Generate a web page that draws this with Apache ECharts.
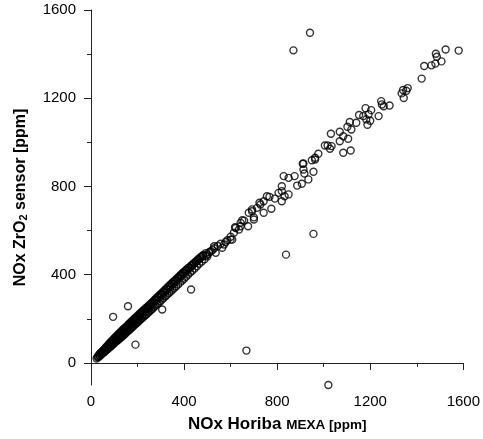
<!DOCTYPE html>
<html>
<head>
<meta charset="utf-8">
<script src="https://cdn.jsdelivr.net/npm/echarts@6/dist/echarts.min.js"></script>
<style>html,body{margin:0;padding:0;background:#fff}#c{width:483px;height:439px}</style>
</head>
<body>
<div id="c"></div>
<script>
// Main dense band: NOx Horiba MEXA (x) vs NOx ZrO2 sensor (y), ppm
const bandMexa = [24,28,31,35,38,40,43,46,48,51,53,56,58,61,63,65,68,70,72,75,77,80,82,84,87,89,92,94,96,99,101,104,106,109,111,114,116,118,121,123,126,128,131,133,136,138,141,143,146,148,151,154,156,159,161,164,167,169,172,175,177,180,182,185,188,190,193,196,199,201,204,207,210,212,215,218,221,224,227,230,233,236,239,242,245,248,251,254,258,261,264,267,270,274,277,280,284,287,291,294,298,301,305,309,312,316,320,323,327,331,335,338,342,346,350,354,358,362,366,370,374,378,382,387,391,395,400,404,408,413,417,421,426,431,435,440,445,450,455,460,465,470,476,482,488,494,500];
const bandSensor = [20,27,26,38,31,44,37,50,41,55,46,61,50,66,55,72,60,76,63,84,68,89,72,93,77,100,82,104,86,111,90,116,96,121,99,126,104,131,108,136,113,141,118,146,122,152,127,156,132,161,137,167,142,172,147,178,152,182,157,189,162,193,167,199,173,204,178,210,183,214,188,221,194,225,199,232,205,237,210,243,216,249,221,254,228,261,233,266,240,273,246,279,252,287,259,293,266,300,273,307,280,314,287,322,294,330,302,337,309,345,317,352,324,360,332,368,340,376,348,384,356,392,364,401,373,409,382,417,391,426,400,433,410,442,418,451,428,460,438,470,450,479,460,489,470,498,482];
// Further points inside the dense band
const coreMexa = [30,36,42,47,53,59,64,70,76,81,87,93,98,104,110,115,121,127,132,138,144,150,156,162,168,174,180,186,192,198,204,210,216,222,228,234,240,246,252,258,264,270,276,282,288,294,300,306,312,318,324,330,336,342,348,354,360,366,372,378,384,390,396,402,408,414,420,426,432,438,444,450,456,462,468,474,480];
const coreSensor = [31,34,44,45,55,57,67,68,78,79,90,91,101,102,113,113,124,125,136,136,147,148,160,160,172,172,184,184,197,196,209,208,222,220,234,232,247,245,259,257,272,270,284,283,297,295,309,308,322,320,334,333,347,345,359,358,372,370,384,383,397,395,409,408,420,419,431,432,441,444,452,456,462,468,473,480,485];
// Upper, sparser part of the band
const upperMexa = [494,500,508,515,522,529,536,529,545,557,564,572,579,586,600,600,607,614,622,619,636,643,643,650,658,675,678,692,692,700,700,714,724,728,742,742,756,767,775,790,806,820,820,832,849,820,828,849,875,886,906,913,917,934,956,910,913,949,963,963,977,1005,1017,1034,1027,1031,1069,1084,1105,1069,1084,1116,1102,1119,1112,1140,1188,1183,1200,1152,1170,1193,1236,1180,1204,1247,1250,1258,1283,1335,1341,1344,1355,1361,1421,1432,1463,1480,1486,1482,1506,1524,1580];
const upperSensor = [487,492,502,506,512,529,499,520,530,540,522,537,548,556,559,572,559,590,612,615,605,620,635,647,645,620,681,688,696,650,660,703,726,718,681,733,756,753,699,745,771,801,779,756,764,733,847,839,847,804,812,877,859,832,867,903,904,919,930,922,948,986,986,983,971,1039,1048,1028,1016,1005,953,963,1071,1058,1092,1089,1080,1104,1098,1124,1119,1127,1119,1155,1146,1187,1172,1164,1167,1222,1237,1201,1234,1246,1289,1346,1349,1357,1388,1402,1367,1421,1416];
// Outliers
const outMexa = [95,159,191,306,430,668,838,956,1020,941,870];
const outSensor = [209,257,83,242,333,56,491,585,-100,1497,1417];
// Axis ticks
const majorTicks = [0,400,800,1200,1600];
const minorTicks = [200,600,1000,1400];

const pts = [];
function add(xs, ys){ for (let i=0;i<Math.min(xs.length, ys.length);i++) pts.push([xs[i], ys[i]]); }
add(bandMexa, bandSensor); add(coreMexa, coreSensor); add(upperMexa, upperSensor); add(outMexa, outSensor);

const font = 'Liberation Sans, Arial, Helvetica, sans-serif';
const axisColor = '#222';
const plain = v => String(v);
const chart = echarts.init(document.getElementById('c'), null, {renderer:'canvas'});
chart.setOption({
  animation:false,
  backgroundColor:'#fff',
  grid:{left:91,right:17,top:10,bottom:54,containLabel:false},
  xAxis:[{
    type:'value', min:0, max:1600, interval:400,
    axisLine:{show:true,lineStyle:{color:axisColor,width:1}},
    axisTick:{show:true,inside:false,length:7,lineStyle:{color:axisColor}},
    axisLabel:{color:'#000',fontSize:15,fontFamily:font,margin:9,formatter:plain},
    splitLine:{show:false},
    name:'{a|NOx Horiba }{b|MEXA [ppm]}',
    nameLocation:'middle', nameGap:31,
    nameTextStyle:{rich:{
      a:{fontSize:17,fontWeight:'bold',fontFamily:font,color:'#000'},
      b:{fontSize:13.5,fontWeight:'bold',fontFamily:font,color:'#000',padding:[2,0,0,0]}
    }}
  },{
    type:'value', min:0, max:1600, position:'bottom',
    axisLine:{show:false},
    axisTick:{show:true,inside:false,length:4,customValues:minorTicks,lineStyle:{color:axisColor}},
    axisLabel:{show:false},
    splitLine:{show:false}
  }],
  yAxis:[{
    type:'value', min:-100, max:1600,
    axisLine:{show:true,onZero:false,lineStyle:{color:axisColor,width:1}},
    axisTick:{show:true,inside:false,length:7,customValues:majorTicks,lineStyle:{color:axisColor}},
    axisLabel:{color:'#000',fontSize:15,fontFamily:font,margin:15,customValues:majorTicks,formatter:plain},
    splitLine:{show:false},
    name:'{a|NOx ZrO}{s|2}{a| sensor [ppm]}',
    nameLocation:'middle', nameGap:60, nameRotate:90,
    nameTextStyle:{rich:{
      a:{fontSize:16,fontWeight:'bold',fontFamily:font,color:'#000',lineHeight:20},
      s:{fontSize:11,fontWeight:'bold',fontFamily:font,color:'#000',lineHeight:14,padding:[6,0,0,0]}
    }}
  },{
    type:'value', min:-100, max:1600, position:'left',
    axisLine:{show:false},
    axisTick:{show:true,inside:false,length:4,customValues:minorTicks,lineStyle:{color:axisColor}},
    axisLabel:{show:false},
    splitLine:{show:false}
  }],
  series:[{
    type:'scatter', xAxisIndex:0, yAxisIndex:0,
    data:pts, symbol:'circle', symbolSize:7, clip:false,
    itemStyle:{color:'rgba(0,0,0,0)',borderColor:'#000',borderWidth:1.4}
  }]
});
</script>
</body>
</html>
